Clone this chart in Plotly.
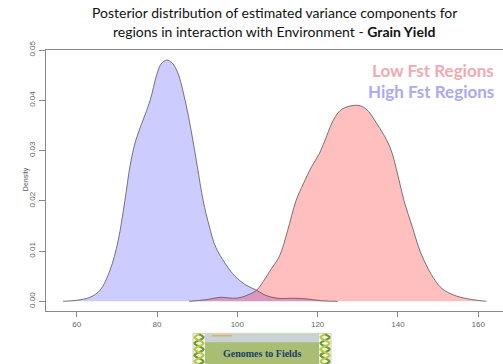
import plotly.graph_objects as go
import numpy as np

# ---- data ----
high_x = [56.6, 60.0, 63.3, 65.8, 68.3, 70.3, 72.0, 73.3, 74.7, 76.5, 78.3, 79.9, 81.0, 82.4,
          83.8, 85.2, 87.0, 88.5, 90.0, 91.5, 93.0, 94.5, 97.0, 99.4, 102.0, 104.8, 107.0,
          110.0, 114.0, 117.0, 121.0, 125.0]
high_y = [0.0, 0.0002, 0.0008, 0.0022, 0.0062, 0.0120, 0.0200, 0.0270, 0.0320, 0.0360, 0.0400,
          0.0450, 0.0472, 0.0480, 0.0474, 0.0454, 0.0400, 0.0340, 0.0270, 0.0200, 0.0150,
          0.0110, 0.0075, 0.0050, 0.0033, 0.0022, 0.0012, 0.0006, 0.0006, 0.0005, 0.0001, 0.0]

low_x = [88.0, 92.0, 96.0, 99.0, 101.0, 103.0, 104.8, 106.5, 108.5, 110.5, 112.5, 114.6, 116.5,
         118.5, 120.5, 122.3, 124.0, 126.0, 129.7, 132.0, 134.7, 138.0, 140.0, 141.5, 143.5,
         145.5, 147.5, 149.2, 151.0, 154.0, 158.0, 162.0]
low_y = [0.0, 0.0003, 0.0008, 0.0006, 0.0008, 0.0014, 0.0022, 0.0040, 0.0065, 0.0090, 0.0140,
         0.0200, 0.0235, 0.0268, 0.0295, 0.0330, 0.0362, 0.0382, 0.0390, 0.0383, 0.0354,
         0.0307, 0.0250, 0.0200, 0.0150, 0.0100, 0.0065, 0.0042, 0.0025, 0.0012, 0.0004, 0.0]

x_ticks = [60, 80, 100, 120, 140, 160]
y_ticks = [0.00, 0.01, 0.02, 0.03, 0.04, 0.05]
y_tick_labels = ["0.00", "0.01", "0.02", "0.03", "0.04", "0.05"]

series_names = ["Low Fst Regions", "High Fst Regions"]

W, H = 503, 364
L, T, B = 46, 50, 53.3
PW = W - L
PH = H - T - B


def xp(px):
    return (px - L) / PW


def yp(py):
    return (H - B - py) / PH


fig = go.Figure()
fig.add_trace(go.Scatter(x=high_x, y=high_y, mode="lines", fill="tozeroy",
                         fillcolor="rgba(0,0,255,0.2)", line=dict(color="#555555", width=0.8),
                         line_shape="spline", name=series_names[1], showlegend=False,
                         hoverinfo="skip"))
fig.add_trace(go.Scatter(x=low_x, y=low_y, mode="lines", fill="tozeroy",
                         fillcolor="rgba(255,0,0,0.25)", line=dict(color="#555555", width=0.8),
                         line_shape="spline", name=series_names[0], showlegend=False,
                         hoverinfo="skip"))

axis_font = dict(family="Liberation Sans, Arial", size=8, color="#666666")
fig.update_xaxes(range=[52.36, 52.36 + PW / 4.016], tickvals=x_ticks, ticks="outside",
                 ticklen=5, tickcolor="#888888", showline=True, linecolor="#888888",
                 linewidth=1, mirror=True, showgrid=False, zeroline=False,
                 tickfont=axis_font, automargin=False)
fig.update_yaxes(range=[-0.00193, 0.05], tickvals=y_ticks, ticktext=y_tick_labels,
                 ticks="outside", ticklen=6, tickcolor="#888888", showline=True,
                 linecolor="#888888", linewidth=1, mirror=True, showgrid=False,
                 zeroline=False, tickangle=-90, tickfont=axis_font, automargin=False,
                 ticklabelstandoff=1)

title_font = dict(family="Lato, Open Sans", size=14, color="#111111")
annotations = [
    dict(text="Posterior distribution of estimated variance components for",
         x=xp(274), y=yp(13), xref="paper", yref="paper", showarrow=False,
         font=title_font, xanchor="center", yanchor="middle"),
    dict(text="regions in interaction with Environment - <b>Grain Yield</b>",
         x=xp(274), y=yp(32), xref="paper", yref="paper", showarrow=False,
         font=title_font, xanchor="center", yanchor="middle"),
    dict(text="<b>" + series_names[0] + "</b>", x=xp(496), y=yp(70), xref="paper",
         yref="paper", showarrow=False, xanchor="right", yanchor="middle",
         font=dict(family="Lato", size=17, color="#F2A9B1")),
    dict(text="<b>" + series_names[1] + "</b>", x=xp(496), y=yp(91), xref="paper",
         yref="paper", showarrow=False, xanchor="right", yanchor="middle",
         font=dict(family="Lato", size=17, color="#A9A9F4")),
    dict(text="Density", x=xp(26), y=yp(179), xref="paper", yref="paper",
         showarrow=False, textangle=-90, xanchor="center", yanchor="middle",
         font=dict(family="Liberation Sans, Arial", size=7, color="#555555")),
    dict(text="<b>Genomes to Fields</b>", x=xp(262), y=yp(353), xref="paper", yref="paper",
         showarrow=False, xanchor="center", yanchor="middle",
         font=dict(family="Liberation Serif, DejaVu Serif", size=10, color="#1F3A6B")),
]

shapes = [
    # logo background
    dict(type="rect", xref="paper", yref="paper", x0=xp(193), x1=xp(331), y0=yp(364),
         y1=yp(333), fillcolor="#F4F4EC", line=dict(color="#CFCFC0", width=1), layer="above"),
    dict(type="rect", xref="paper", yref="paper", x0=xp(205), x1=xp(319), y0=yp(364),
         y1=yp(334), fillcolor="#A9BE72", line=dict(width=0), layer="above"),
    dict(type="rect", xref="paper", yref="paper", x0=xp(205), x1=xp(319), y0=yp(342),
         y1=yp(334), fillcolor="#C9D3D6", line=dict(width=0), layer="above"),
    dict(type="rect", xref="paper", yref="paper", x0=xp(212), x1=xp(232), y0=yp(336),
         y1=yp(335), fillcolor="#E8A030", line=dict(width=0), layer="above"),
]

# DNA helix decorations on logo sides
for cx in (199, 325):
    ys = np.linspace(334, 364, 25)
    for phase, col in ((0.0, "#6E9B2E"), (np.pi, "#B8C94A")):
        pts = [(xp(cx + 4.5 * np.sin(2 * np.pi * (yy - 334) / 12 + phase)), yp(yy)) for yy in ys]
        path = "M " + " L ".join(f"{a:.5f},{b:.5f}" for a, b in pts)
        shapes.append(dict(type="path", xref="paper", yref="paper", path=path,
                           line=dict(color=col, width=2.2), layer="above"))

fig.update_layout(width=W, height=H, margin=dict(l=L, r=0, t=T, b=B),
                  paper_bgcolor="white", plot_bgcolor="white",
                  annotations=annotations, shapes=shapes, showlegend=False)

fig.write_html("out.html", config={"displayModeBar": False},
               post_script="document.body.style.margin='0';"
               "document.body.style.overflow='hidden';")
